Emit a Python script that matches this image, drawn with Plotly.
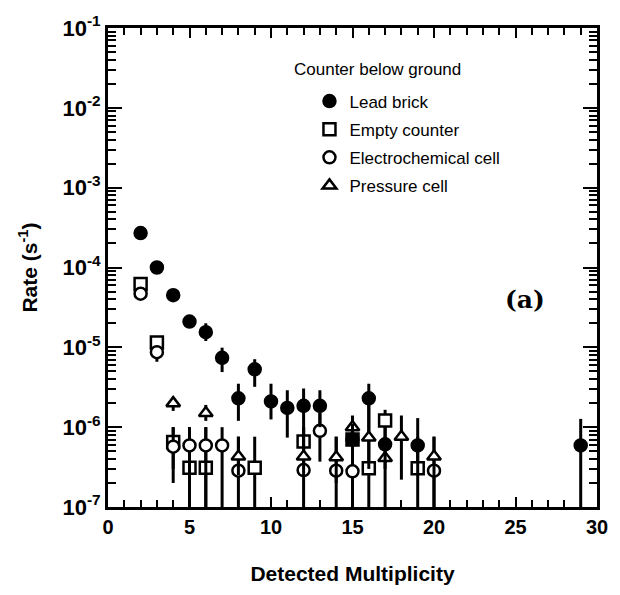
import plotly.graph_objects as go

# ---- data ----
lead_x  = [2, 3, 4, 5, 6, 7, 8, 9, 10, 11, 12, 13, 15, 16, 17, 19, 29]
lead_y  = [2.7e-4, 1.0e-4, 4.5e-5, 2.1e-5, 1.55e-5, 7.4e-6, 2.3e-6, 5.3e-6, 2.1e-6, 1.74e-6, 1.85e-6, 1.85e-6, 7.0e-7, 2.3e-6, 6.1e-7, 5.9e-7, 5.9e-7]
lead_lo = [2.7e-4, 1.0e-4, 4.5e-5, 2.1e-5, 1.2e-5, 4.9e-6, 1.2e-6, 3.2e-6, 1.25e-6, 7.4e-7, 8.0e-7, 1.0e-6, 3.5e-7, 1.0e-6, 3.0e-7, 2.5e-7, 1e-8]
lead_hi = [2.7e-4, 1.0e-4, 4.5e-5, 2.1e-5, 2.0e-5, 9.9e-6, 3.5e-6, 7.1e-6, 3.5e-6, 2.9e-6, 3.05e-6, 2.9e-6, 1.1e-6, 3.5e-6, 1.0e-6, 1.3e-6, 1.27e-6]

empty_x  = [2, 3, 4, 5, 6, 9, 12, 15, 16, 17, 19]
empty_y  = [6.2e-5, 1.15e-5, 6.5e-7, 3.1e-7, 3.1e-7, 3.1e-7, 6.6e-7, 7.0e-7, 3.05e-7, 1.21e-6, 3.05e-7]
empty_lo = [5.6e-5, 1.0e-5, 3.0e-7, 1e-8, 1e-8, 1e-8, 3.0e-7, 3.0e-7, 1e-8, 7.0e-7, 1e-8]
empty_hi = [6.8e-5, 1.3e-5, 1.0e-6, 1.0e-6, 1.0e-6, 7.6e-7, 1.0e-6, 1.1e-6, 1.0e-6, 1.65e-6, 7.6e-7]

echem_x  = [2, 3, 4, 5, 6, 7, 8, 12, 13, 14, 15, 20]
echem_y  = [4.7e-5, 8.7e-6, 5.7e-7, 5.9e-7, 5.9e-7, 5.9e-7, 2.85e-7, 2.9e-7, 9.0e-7, 2.85e-7, 2.8e-7, 2.85e-7]
echem_lo = [4.3e-5, 6.6e-6, 2.0e-7, 1e-8, 1e-8, 1e-8, 1e-8, 1e-8, 3.7e-7, 1e-8, 1e-8, 1e-8]
echem_hi = [5.1e-5, 1.0e-5, 1.0e-6, 1.0e-6, 1.0e-6, 1.0e-6, 7.6e-7, 1.0e-6, 1.5e-6, 7.6e-7, 1.0e-6, 7.6e-7]

press_x  = [4, 6, 8, 12, 14, 15, 16, 17, 18, 20]
press_y  = [2.0e-6, 1.5e-6, 4.3e-7, 4.3e-7, 4.2e-7, 1.0e-6, 7.4e-7, 4.1e-7, 7.6e-7, 4.3e-7]
press_lo = [1.6e-6, 1.2e-6, 2.5e-7, 2.5e-7, 2.0e-7, 5.0e-7, 3.0e-7, 1e-8, 2.2e-7, 1e-8]
press_hi = [2.4e-6, 1.9e-6, 7.6e-7, 7.6e-7, 7.6e-7, 1.4e-6, 2.3e-6, 7.6e-7, 1.4e-6, 7.6e-7]

y_tick_vals = [1e-7, 1e-6, 1e-5, 1e-4, 1e-3, 1e-2, 1e-1]
y_tick_text = ["10<sup>-7</sup>", "10<sup>-6</sup>", "10<sup>-5</sup>", "10<sup>-4</sup>",
               "10<sup>-3</sup>", "10<sup>-2</sup>", "10<sup>-1</sup>"]
x_tick_vals = [0, 5, 10, 15, 20, 25, 30]

FONT = "Liberation Sans, Arial, sans-serif"

fig = go.Figure()

def add(name, xs, ys, lo, hi, symbol, fill, rank):
    fig.add_trace(go.Scatter(
        x=xs, y=ys, mode="markers", name=name,
        legendgroup=name, legendrank=rank,
        marker=dict(symbol=symbol, size=12, color=fill,
                    line=dict(color="black", width=2.5)),
        error_y=dict(type="data", symmetric=False,
                     array=[h - v for h, v in zip(hi, ys)],
                     arrayminus=[v - l for v, l in zip(ys, lo)],
                     color="black", thickness=3, width=0),
    ))

add("Empty counter", empty_x, empty_y, empty_lo, empty_hi, "square", "white", 2)
add("Electrochemical cell", echem_x, echem_y, echem_lo, echem_hi, "circle", "white", 3)
add("Pressure cell", press_x, press_y, press_lo, press_hi, "triangle-up", "white", 4)
add("Lead brick", lead_x, lead_y, lead_lo, lead_hi, "circle", "black", 1)

minor_y = [m * 10.0 ** e for e in range(-7, -1) for m in range(2, 10)]

fig.update_layout(
    width=620, height=595,
    margin=dict(l=108, r=21, t=20, b=78),
    paper_bgcolor="white", plot_bgcolor="white",
    font=dict(family=FONT, color="black", size=16),
    showlegend=True,
    legend=dict(x=0.412, y=0.884, xanchor="left", yanchor="top",
                font=dict(family=FONT, size=17, color="black"),
                bgcolor="rgba(0,0,0,0)", tracegroupgap=3,
                traceorder="grouped"),
    xaxis=dict(range=[0, 30], tickvals=x_tick_vals, ticks="inside", ticklen=10,
               tickwidth=2, tickcolor="black", showline=True, linewidth=3,
               linecolor="black", mirror="allticks", showgrid=False, zeroline=False,
               tickfont=dict(size=20, family=FONT, weight="bold"),
               minor=dict(dtick=1, ticks="inside", ticklen=7, tickwidth=2,
                          tickcolor="black", showgrid=False),
               title=dict(text="<b>Detected Multiplicity</b>", standoff=30,
                          font=dict(size=21, family=FONT))),
    yaxis=dict(type="log", range=[-7, -1], tickvals=y_tick_vals, ticktext=y_tick_text,
               ticks="inside", ticklen=14, tickwidth=2, tickcolor="black",
               showline=True, linewidth=3, linecolor="black", mirror="allticks",
               showgrid=False, zeroline=False,
               tickfont=dict(size=22, family=FONT, weight="bold"),
               minor=dict(tickvals=minor_y, ticks="inside", ticklen=8, tickwidth=2,
                          tickcolor="black", showgrid=False),
               title=dict(text="<b>Rate (s<sup>-1</sup>)</b>", standoff=20,
                          font=dict(size=21, family=FONT))),
    annotations=[
        dict(text="Counter below ground", xref="paper", yref="paper",
             x=0.376, y=0.913, xanchor="left", yanchor="middle", showarrow=False,
             font=dict(family=FONT, size=17, color="black")),
        dict(text="<b>(a)</b>", xref="paper", yref="paper",
             x=0.852, y=0.434, xanchor="center", yanchor="middle", showarrow=False,
             font=dict(family="DejaVu Serif, Liberation Serif, serif", size=25,
                       color="black")),
    ],
)

fig.write_html("out.html", config={"displayModeBar": False},
               post_script="document.body.style.margin='0';")
